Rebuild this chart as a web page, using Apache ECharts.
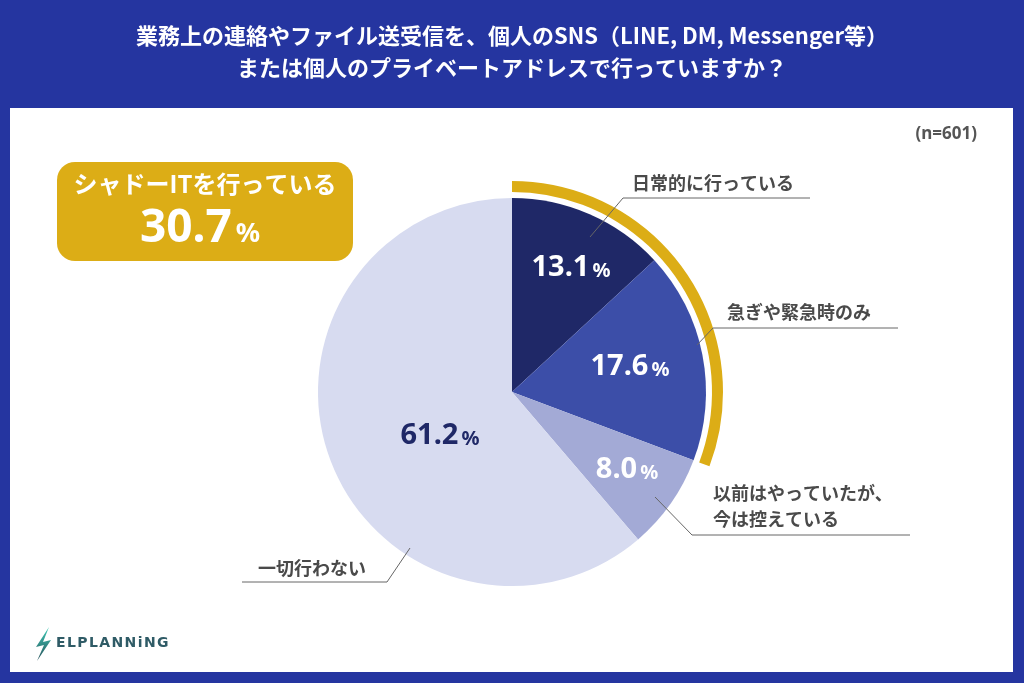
<!DOCTYPE html>
<html><head><meta charset="utf-8">
<script src="https://cdn.jsdelivr.net/npm/echarts@6/dist/echarts.min.js"></script>
<style>html,body{margin:0;padding:0;background:#2535a0}#c{width:1024px;height:683px}</style>
</head><body><div id="c"></div>
<script>
// ---- data ----
const titleLines = ['業務上の連絡やファイル送受信を、個人のSNS（LINE, DM, Messenger等）', 'または個人のプライベートアドレスで行っていますか？'];
const categories = ['日常的に行っている', '急ぎや緊急時のみ', '以前はやっていたが、\n今は控えている', '一切行わない'];
const values = [13.1, 17.6, 8.0, 61.2];
const shadowITIndices = [0, 1];
const shadowITLabel = 'シャドーITを行っている';
const sampleLabel = '(n=601)';
const brandName = 'ELPLANNiNG';

// ---- styles ----
const sliceColors = ['#1f2867', '#3c4ea8', '#a3aad6', '#d7dbf0'];
const pctStyleKey = ['w', 'w', 'w', 'd'];
const gold = '#dcad16';
const CJK = '"Noto Sans CJK JP", "Noto Sans", sans-serif';
const NUM = '"Noto Sans", "Noto Sans CJK JP", sans-serif';
const CENTER = [512, 392];
const R = 194;
// label placement (layout only)
const innerLabelPos = [[571, 268], [630, 367], [627, 470], [440, 436]];
const outerLabelPos = [[632, 183], [727, 312], [713, 506], [258, 568]];
const outerLinePts = [
  [[590, 237], [623, 198], [810, 198]],
  [[697, 345], [713, 328], [898, 328]],
  [[655, 497], [692, 535], [910, 535]],
  [[410, 548], [387, 582], [242, 582]]
];

const shadowIT = Math.round(shadowITIndices.reduce((s, i) => s + values[i], 0) * 10) / 10;
const pieData = categories.map((n, i) => ({ name: n, value: values[i], itemStyle: { color: sliceColors[i] } }));

const chart = echarts.init(document.getElementById('c'), null, { renderer: 'canvas' });
chart.setOption({
  backgroundColor: '#2535a0',
  animation: false,
  graphic: [
    { type: 'rect', shape: { x: 10, y: 108, width: 1003, height: 564 }, style: { fill: '#ffffff' }, z: -10 },
    { type: 'text', left: 'center', top: 25, style: { text: titleLines[0], fill: '#ffffff', font: 'bold 22px ' + CJK } },
    { type: 'text', left: 'center', top: 57, style: { text: titleLines[1], fill: '#ffffff', font: 'bold 22px ' + CJK } },
    { type: 'text', right: 1024 - 977, top: 126, style: { text: sampleLabel, fill: '#555555', font: 'bold 17px ' + NUM } },
    { type: 'rect', shape: { x: 57, y: 162, width: 296, height: 99, r: 18 }, style: { fill: gold } },
    { type: 'text', x: 205, y: 184, style: { text: shadowITLabel, fill: '#ffffff', font: 'bold 24px ' + CJK, align: 'center', verticalAlign: 'middle' } },
    { type: 'text', x: 200, y: 229, style: {
        text: '{n|' + shadowIT.toFixed(1) + '}{p|%}', align: 'center', verticalAlign: 'middle',
        rich: { n: { fill: '#ffffff', font: 'bold 46px ' + NUM, padding: [0, 4, 0, 0] }, p: { fill: '#ffffff', font: 'bold 27px ' + NUM, padding: [10, 0, 0, 0] } } } },
    { type: 'polygon', shape: { points: [[49, 627], [36, 647], [44, 645], [37, 661], [51, 640], [43, 642]] },
      style: { fill: new echarts.graphic.LinearGradient(0, 0, 0, 1, [{ offset: 0, color: '#3fcab6' }, { offset: 1, color: '#27505a' }]) } },
    { type: 'text', x: 56, y: 643, style: { text: brandName.split('').join('\u200a'), fill: '#2f5b66', font: 'bold 14px "DejaVu Sans", sans-serif', verticalAlign: 'middle' } }
  ],
  series: [
    {
      type: 'pie', center: CENTER, radius: [0, R], startAngle: 90, clockwise: true, silent: true,
      data: pieData,
      label: {
        show: true, position: 'inside',
        formatter: p => { const k = pctStyleKey[p.dataIndex]; return '{' + k + 'n|' + p.value.toFixed(1) + '}{' + k + 'p|%}'; },
        rich: {
          wn: { color: '#ffffff', fontFamily: NUM, fontWeight: 'bold', fontSize: 29, padding: [0, 3, 0, 0] },
          wp: { color: '#ffffff', fontFamily: NUM, fontWeight: 'bold', fontSize: 20, padding: [6, 0, 0, 0] },
          dn: { color: '#1f2867', fontFamily: NUM, fontWeight: 'bold', fontSize: 29, padding: [0, 3, 0, 0] },
          dp: { color: '#1f2867', fontFamily: NUM, fontWeight: 'bold', fontSize: 20, padding: [6, 0, 0, 0] }
        }
      },
      labelLine: { show: false },
      labelLayout: p => ({ x: innerLabelPos[p.dataIndex][0], y: innerLabelPos[p.dataIndex][1], align: 'center', verticalAlign: 'middle' })
    },
    {
      type: 'pie', center: CENTER, radius: [0, R], startAngle: 90, clockwise: true, silent: true, z: 3,
      data: categories.map((n, i) => ({ name: n, value: values[i], itemStyle: { color: 'rgba(0,0,0,0)' } })),
      label: { show: true, position: 'outside', formatter: '{b}', color: '#4a4a4a', fontFamily: CJK, fontWeight: 'bold', fontSize: 18, lineHeight: 26 },
      labelLine: { show: true, length: 20, length2: 40, lineStyle: { color: '#666666', width: 1 } },
      labelLayout: p => ({
        x: outerLabelPos[p.dataIndex][0], y: outerLabelPos[p.dataIndex][1], align: 'left', verticalAlign: 'middle',
        labelLinePoints: outerLinePts[p.dataIndex]
      })
    },
    {
      type: 'pie', center: CENTER, radius: [200, 211], startAngle: 90, clockwise: true, silent: true,
      label: { show: false }, labelLine: { show: false },
      data: [
        { value: shadowIT, itemStyle: { color: gold } },
        { value: values.reduce((s, v) => s + v, 0) - shadowIT, itemStyle: { color: 'rgba(0,0,0,0)' } }
      ]
    }
  ]
});
</script></body></html>
